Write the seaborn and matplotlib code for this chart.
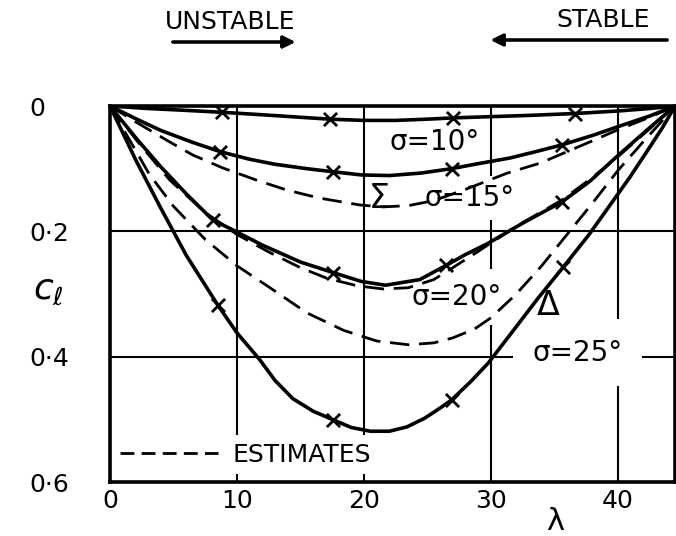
import matplotlib
matplotlib.use("Agg")
import matplotlib.pyplot as plt
import seaborn as sns
import pandas as pd
from matplotlib.lines import Line2D

lam_10 = [0, 3, 6, 8.8, 12, 15, 17.3, 20, 22.5, 25, 27, 30, 33, 36.6, 40, 42.5, 44.5]
cl_10 = [0, 0.004, 0.007, 0.010, 0.014, 0.018, 0.021, 0.023, 0.023, 0.021, 0.019,
         0.017, 0.015, 0.012, 0.008, 0.004, 0]

lam_15 = [0, 2, 4, 6.5, 8.7, 11, 13, 15.5, 17.6, 19.8, 22, 24.5, 26.9, 29, 31.5,
          33.5, 35.6, 38, 40, 42.5, 44.5]
cl_15 = [0, 0.020, 0.039, 0.058, 0.073, 0.085, 0.093, 0.100, 0.105, 0.110, 0.111,
         0.107, 0.100, 0.092, 0.083, 0.073, 0.062, 0.047, 0.033, 0.016, 0]

lam_20 = [0, 2, 4, 6, 8.1, 9.7, 12, 15, 17.6, 19.8, 21.7, 24.4, 26.5, 28, 29.7,
          32.5, 35.6, 37.8, 39.9, 42.2, 44.5]
cl_20 = [0, 0.050, 0.097, 0.140, 0.182, 0.198, 0.222, 0.249, 0.266, 0.280, 0.286,
         0.277, 0.254, 0.237, 0.220, 0.187, 0.153, 0.120, 0.081, 0.040, 0]

lam_25 = [0, 2, 4, 6, 8.5, 10, 11.8, 13, 14.4, 16, 17.6, 19, 20.5, 22, 23.4, 24.8,
          26, 26.9, 28.4, 29.8, 31.7, 33.7, 35.7, 37.7, 39.6, 41, 42.5, 43.5, 44.5]
cl_25 = [0, 0.085, 0.163, 0.238, 0.318, 0.362, 0.405, 0.438, 0.467, 0.487, 0.501,
         0.513, 0.519, 0.519, 0.512, 0.498, 0.482, 0.469, 0.440, 0.410, 0.360,
         0.307, 0.257, 0.206, 0.152, 0.112, 0.066, 0.035, 0]

# --- estimated curves (dashed) --------------------------------------------
lam_15e = [0, 2, 4.5, 6.5, 8.9, 11.5, 13.9, 16.5, 19.7, 21.5, 23.5, 25.5, 28,
           31.3, 33.9, 37.6, 40, 42.5, 44.5]
cl_15e = [0, 0.025, 0.055, 0.078, 0.099, 0.118, 0.134, 0.147, 0.158, 0.161, 0.159,
          0.151, 0.133, 0.107, 0.091, 0.059, 0.038, 0.018, 0]

lam_20e = [0, 2.3, 4.7, 7.5, 10, 12.5, 15, 17.1, 19.5, 21.5, 23.5, 25.5, 27, 29,
           32, 35.6, 38, 40, 42.3, 44.5]
cl_20e = [0, 0.060, 0.118, 0.170, 0.205, 0.233, 0.258, 0.275, 0.287, 0.292, 0.290,
          0.277, 0.258, 0.232, 0.192, 0.150, 0.114, 0.081, 0.040, 0]

lam_25e = [0, 3.1, 5, 7.5, 10, 12.6, 15.5, 18.4, 21, 23.5, 25.5, 27, 28.7, 30, 32,
           34, 36, 38, 40, 42, 43.3, 44.5]
cl_25e = [0, 0.109, 0.160, 0.213, 0.255, 0.290, 0.330, 0.358, 0.375, 0.381, 0.378,
          0.370, 0.356, 0.338, 0.300, 0.255, 0.205, 0.155, 0.103, 0.057, 0.028, 0]

# --- test points (crosses) -------------------------------------------------
pts_lam_10 = [8.8, 17.3, 27, 36.6]
pts_cl_10 = [0.010, 0.021, 0.019, 0.012]
pts_lam_15 = [8.7, 17.6, 26.9, 35.6]
pts_cl_15 = [0.073, 0.105, 0.100, 0.062]
pts_lam_20 = [8.1, 17.6, 26.5, 35.6]
pts_cl_20 = [0.182, 0.266, 0.254, 0.153]
pts_lam_25 = [8.5, 17.6, 26.9, 35.7]
pts_cl_25 = [0.318, 0.501, 0.469, 0.257]

x_ticks = [0, 10, 20, 30, 40]
x_ticklabels = ["0", "10", "20", "30", "40"]
y_ticks = [0, 0.2, 0.4, 0.6]
y_ticklabels = ["0", "0\u00b72", "0\u00b74", "0\u00b76"]

sns.set_theme(style="white")
plt.rcParams["font.family"] = ["DejaVu Sans"]
plt.rcParams["text.color"] = "black"

W, H = 676, 536
fig = plt.figure(figsize=(W / 100, H / 100), dpi=100)
ax = fig.add_axes([110 / W, 1 - 482 / H, 565 / W, (482 - 106) / H])


def curve(lam, cl, dashed=False):
    df = pd.DataFrame({"lam": lam, "cl": cl})
    kw = dict(dashes=(7, 3.5)) if dashed else {}
    sns.lineplot(data=df, x="lam", y="cl", ax=ax, color="black", sort=False,
                 estimator=None, lw=2.0 if dashed else 2.6, zorder=4, **kw)


def crosses(lam, cl):
    df = pd.DataFrame({"lam": lam, "cl": cl})
    sns.scatterplot(data=df, x="lam", y="cl", ax=ax, marker="x", color="black",
                    s=90, linewidth=2.0, zorder=5)


for lam, cl in [(lam_10, cl_10), (lam_15, cl_15), (lam_20, cl_20), (lam_25, cl_25)]:
    curve(lam, cl)
for lam, cl in [(lam_15e, cl_15e), (lam_20e, cl_20e), (lam_25e, cl_25e)]:
    curve(lam, cl, dashed=True)
for lam, cl in [(pts_lam_10, pts_cl_10), (pts_lam_15, pts_cl_15),
                (pts_lam_20, pts_cl_20), (pts_lam_25, pts_cl_25)]:
    crosses(lam, cl)

ax.set_xlim(0, 44.5)
ax.set_ylim(0.6, 0)
ax.set_xticks(x_ticks)
ax.set_xticklabels(x_ticklabels)
ax.set_yticks(y_ticks)
ax.set_yticklabels(y_ticklabels, ha="left")
ax.set_xlabel("")
ax.set_ylabel("")
ax.set_axisbelow(True)
ax.grid(True, color="black", lw=1.5)
ax.tick_params(axis="both", length=0, labelsize=18, colors="black")
ax.tick_params(axis="y", pad=58)
ax.tick_params(axis="x", pad=5)
for s in ax.spines.values():
    s.set_visible(True)
    s.set_color("black")
    s.set_linewidth(2.6)


def wbox(pad):
    return dict(facecolor="white", edgecolor="none", pad=pad)


ax.text(25.6, 0.058, "\u03c3=10\u00b0", ha="center", va="center", fontsize=20,
        bbox=wbox(1), zorder=3)
ax.text(21.2, 0.147, "\u03a3", ha="center", va="center", fontsize=24, zorder=3)
ax.text(28.3, 0.147, "\u03c3=15\u00b0", ha="center", va="center", fontsize=20,
        bbox=wbox(6), zorder=3)
ax.text(27.3, 0.305, "\u03c3=20\u00b0", ha="center", va="center", fontsize=20,
        bbox=wbox(10), zorder=3)
ax.text(36.8, 0.394, "\u03c3=25\u00b0", ha="center", va="center", fontsize=20,
        bbox=wbox(14), zorder=3)
ax.text(34.5, 0.318, "\u0394", ha="center", va="center", fontsize=24, zorder=3)

handle = Line2D([], [], color="black", lw=2.0, dashes=(5, 2.6))
leg = ax.legend([handle], ["ESTIMATES"], loc="center left",
                bbox_to_anchor=(0.005, 0.072), frameon=True, fontsize=18,
                handlelength=3.9, handletextpad=0.6, borderpad=0.3,
                borderaxespad=0, fancybox=False)
leg.get_frame().set_facecolor("white")
leg.get_frame().set_edgecolor("none")
leg.get_frame().set_alpha(1)
leg.set_zorder(3)

fig.text(48 / W, 1 - 290 / H, r"$c_{\ell}$", ha="center", va="center", fontsize=26)
fig.text(555 / W, 1 - 522 / H, "\u03bb", ha="center", va="center", fontsize=22)

fig.text(230 / W, 1 - 22 / H, "UNSTABLE", ha="center", va="center", fontsize=18)
fig.text(603 / W, 1 - 20 / H, "STABLE", ha="center", va="center", fontsize=18)
arrow = dict(arrowstyle="-|>", lw=2.2, color="black", mutation_scale=18)
fig.add_artist(plt.annotate("", xy=(298 / W, 1 - 42 / H), xytext=(170 / W, 1 - 42 / H),
                            xycoords="figure fraction", textcoords="figure fraction",
                            arrowprops=arrow))
fig.add_artist(plt.annotate("", xy=(488 / W, 1 - 40 / H), xytext=(670 / W, 1 - 40 / H),
                            xycoords="figure fraction", textcoords="figure fraction",
                            arrowprops=arrow))

fig.savefig("out.png", dpi=100, facecolor="white")
